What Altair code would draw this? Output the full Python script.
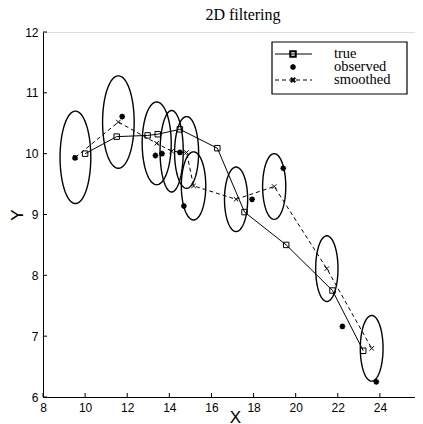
import altair as alt
import numpy as np
import pandas as pd

# ---- data ----
true_x = [10.0, 11.5, 12.97, 13.45, 14.5, 16.28, 17.57, 19.55, 21.75, 23.21]
true_y = [10.0, 10.28, 10.30, 10.32, 10.40, 10.09, 9.04, 8.50, 7.75, 6.76]

obs_x = [9.52, 11.76, 13.34, 13.65, 14.5, 14.69, 17.93, 19.41, 22.22, 23.83]
obs_y = [9.93, 10.61, 9.97, 10.0, 10.02, 9.14, 9.25, 9.76, 7.16, 6.25]

sm_x = [9.54, 11.58, 13.40, 14.11, 14.82, 15.15, 17.17, 18.98, 21.48, 23.61]
sm_y = [9.94, 10.52, 10.17, 10.04, 10.02, 9.47, 9.25, 9.46, 8.11, 6.80]

# ellipse semi-axes (data units) around each smoothed estimate
ell_rx = [0.73, 0.75, 0.69, 0.55, 0.57, 0.58, 0.55, 0.55, 0.53, 0.54]
ell_ry = [0.76, 0.76, 0.68, 0.67, 0.59, 0.56, 0.53, 0.54, 0.54, 0.54]

x_ticks = [8, 10, 12, 14, 16, 18, 20, 22, 24, 26]
y_ticks = [6, 7, 8, 9, 10, 11, 12]

legend_labels = ["true", "observed", "smoothed"]

# The reference axis (8..26) spans 379 px but its right end runs past the
# window edge; only the visible part (372 px) fits in the page body.
FULL_W = 379
W, H = 372, 365
X_MIN, X_MAX = 8, 26
X_VIS = X_MIN + (X_MAX - X_MIN) * W / FULL_W
SANS = "Liberation Sans"
SERIF = "Liberation Serif"

xs = alt.Scale(domain=[X_MIN, X_VIS], nice=False, zero=False)
ys = alt.Scale(domain=[6, 12], nice=False, zero=False)

vis_x_ticks = [v for v in x_ticks if v <= X_VIS]

xaxis = alt.Axis(values=vis_x_ticks, ticks=False, grid=False, domainColor="black",
                 domainWidth=1, labelFont=SANS, labelFontSize=12, labelColor="black",
                 labelPadding=5, labelFlush=False, labelOverlap=False, title="X",
                 titleFont=SANS, titleFontSize=17, titleFontWeight="normal",
                 titleColor="black", titleY=25, titleBaseline="alphabetic", titleX=192)
yaxis = alt.Axis(values=y_ticks, ticks=False, grid=False, domainColor="black",
                 domainWidth=1, labelFont=SANS, labelFontSize=12, labelColor="black",
                 labelPadding=5, labelFlush=False, labelOverlap=False, title="Y",
                 titleFont=SANS, titleFontSize=17, titleFontWeight="normal",
                 titleColor="black", titlePadding=-2)


def X():
    return alt.X("x:Q", scale=xs, axis=xaxis)


def Y():
    return alt.Y("y:Q", scale=ys, axis=yaxis)


true_df = pd.DataFrame({"x": true_x, "y": true_y, "i": list(range(len(true_x)))})
obs_df = pd.DataFrame({"x": obs_x, "y": obs_y})
sm_df = pd.DataFrame({"x": sm_x, "y": sm_y, "i": list(range(len(sm_x)))})

t = np.linspace(0, 2 * np.pi, 91)
rows = []
for e, (cx, cy, rx, ry) in enumerate(zip(sm_x, sm_y, ell_rx, ell_ry)):
    for k, a in enumerate(t):
        rows.append({"x": cx + rx * np.cos(a), "y": cy + ry * np.sin(a), "e": e, "k": k})
ell_df = pd.DataFrame(rows)

STAR = "M-1,0L1,0M0,-1L0,1M-0.7,-0.7L0.7,0.7M-0.7,0.7L0.7,-0.7"
XMARK = "M-1,-1L1,1M-1,1L1,-1"

ellipses = alt.Chart(ell_df).mark_line(color="black", strokeWidth=1.4).encode(
    x=X(), y=Y(), detail="e:N", order="k:Q")

true_line = alt.Chart(true_df).mark_line(color="black", strokeWidth=1).encode(
    x=X(), y=Y(), order="i:Q")
true_pts = alt.Chart(true_df).mark_point(shape="square", size=30, filled=False,
                                         color="black", strokeWidth=1, opacity=1).encode(
    x=X(), y=Y())

sm_line = alt.Chart(sm_df).mark_line(color="black", strokeWidth=1, strokeDash=[4, 3]).encode(
    x=X(), y=Y(), order="i:Q")
sm_pts = alt.Chart(sm_df).mark_point(shape=XMARK, size=20, filled=False,
                                     color="black", strokeWidth=1, opacity=1).encode(
    x=X(), y=Y())

obs_pts = alt.Chart(obs_df).mark_point(shape=STAR, size=34, filled=False,
                                       color="black", strokeWidth=1.6, opacity=1).encode(
    x=X(), y=Y())

# inward ticks
xt_df = pd.DataFrame({"x": vis_x_ticks})
yt_df = pd.DataFrame({"y": y_ticks})
xticks = alt.Chart(xt_df).mark_rule(color="black", strokeWidth=1).encode(
    x=X(), y=alt.value(H), y2=alt.value(H - 4))
yticks = alt.Chart(yt_df).mark_rule(color="black", strokeWidth=1).encode(
    y=Y(), x=alt.value(0), x2=alt.value(4))

# legend (pixel layout)
row_y = [22, 35, 48]
one = pd.DataFrame({"a": [0]})
box = alt.Chart(one).mark_rect(fill="white", stroke="black", strokeWidth=1.2).encode(
    x=alt.value(229), x2=alt.value(364), y=alt.value(10), y2=alt.value(62))
leg_texts = [
    alt.Chart(one).mark_text(align="left", baseline="middle", font=SERIF, fontSize=14.5,
                             color="black").encode(
        x=alt.value(291), y=alt.value(row_y[j]), text=alt.value(lab))
    for j, lab in enumerate(legend_labels)
]
leg_true_line = alt.Chart(one).mark_rule(color="black", strokeWidth=1).encode(
    x=alt.value(232), x2=alt.value(269), y=alt.value(row_y[0]))
leg_sm_line = alt.Chart(one).mark_rule(color="black", strokeWidth=1, strokeDash=[4, 3]).encode(
    x=alt.value(232), x2=alt.value(269), y=alt.value(row_y[2]))
leg_true_pt = alt.Chart(one).mark_point(shape="square", size=30, filled=False,
                                        color="black", opacity=1).encode(
    x=alt.value(250), y=alt.value(row_y[0]))
leg_obs_pt = alt.Chart(one).mark_point(shape=STAR, size=34, filled=False, color="black",
                                       strokeWidth=1.6, opacity=1).encode(
    x=alt.value(250), y=alt.value(row_y[1]))
leg_sm_pt = alt.Chart(one).mark_point(shape=XMARK, size=20, filled=False,
                                      color="black", opacity=1).encode(
    x=alt.value(250), y=alt.value(row_y[2]))

chart = alt.layer(
    ellipses, true_line, sm_line, true_pts, sm_pts, obs_pts, xticks, yticks,
    box, leg_true_line, leg_sm_line, leg_true_pt, leg_obs_pt, leg_sm_pt, *leg_texts,
).properties(
    width=W, height=H,
    title=alt.TitleParams("2D filtering", font=SERIF, fontSize=16, fontWeight="normal",
                          color="black", offset=3, dx=14, frame="group"),
    padding={"left": 35, "top": 24, "right": 0, "bottom": 27},
    autosize=alt.AutoSizeParams(type="none"),
).configure_view(stroke=None).configure(background="white")

chart.save("out.html", embed_options={"renderer": "svg", "actions": False})
